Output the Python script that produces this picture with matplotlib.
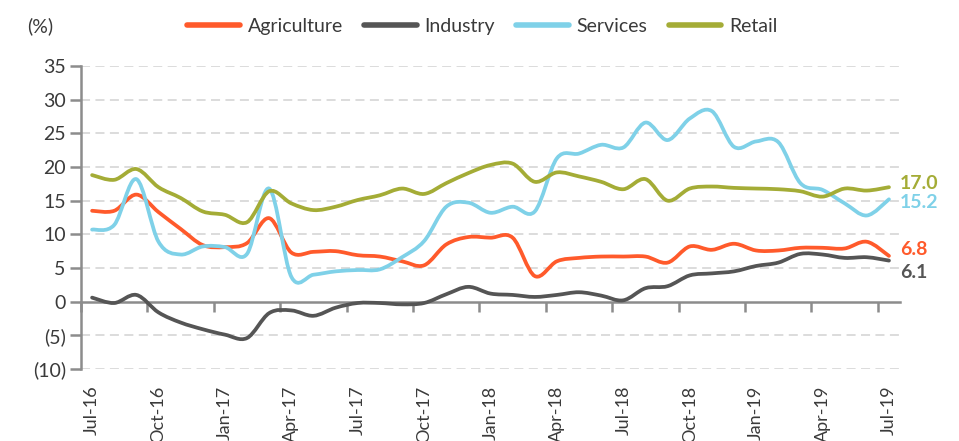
import numpy as np
import matplotlib
matplotlib.use("Agg")
import matplotlib.pyplot as plt
from matplotlib.path import Path
from matplotlib.patches import PathPatch
from matplotlib.lines import Line2D

plt.rcParams['font.family'] = ['Lato', 'DejaVu Sans']

# monthly data, Jul-16 .. Jul-19
months = ["Jul-16", "Aug-16", "Sep-16", "Oct-16", "Nov-16", "Dec-16",
          "Jan-17", "Feb-17", "Mar-17", "Apr-17", "May-17", "Jun-17",
          "Jul-17", "Aug-17", "Sep-17", "Oct-17", "Nov-17", "Dec-17",
          "Jan-18", "Feb-18", "Mar-18", "Apr-18", "May-18", "Jun-18",
          "Jul-18", "Aug-18", "Sep-18", "Oct-18", "Nov-18", "Dec-18",
          "Jan-19", "Feb-19", "Mar-19", "Apr-19", "May-19", "Jun-19",
          "Jul-19"]

agriculture = [13.5, 13.5, 15.9, 13.3, 10.8, 8.4, 8.1, 8.7, 12.4, 7.3, 7.4, 7.5,
               6.9, 6.7, 6.0, 5.4, 8.5, 9.6, 9.5, 9.5, 3.8, 6.0, 6.5, 6.7,
               6.7, 6.7, 5.8, 8.2, 7.7, 8.6, 7.6, 7.6, 8.0, 8.0, 7.9, 8.9, 6.8]
industry = [0.6, -0.2, 1.0, -1.6, -3.1, -4.1, -4.9, -5.4, -1.7, -1.3, -2.1, -0.9,
            -0.2, -0.2, -0.4, -0.2, 1.1, 2.2, 1.2, 1.0, 0.7, 1.0, 1.4, 0.9,
            0.2, 2.0, 2.3, 3.9, 4.2, 4.5, 5.3, 5.8, 7.1, 7.0, 6.5, 6.6, 6.1]
services = [10.7, 11.4, 18.2, 8.9, 7.0, 8.2, 8.1, 7.1, 16.8, 3.7, 4.0, 4.5,
            4.7, 4.8, 6.6, 9.0, 14.1, 14.7, 13.2, 14.1, 13.4, 21.3, 22.0, 23.3,
            22.9, 26.6, 24.0, 27.2, 28.3, 23.0, 23.8, 23.7, 17.6, 16.6, 14.6, 12.8, 15.2]
retail = [18.8, 18.1, 19.7, 17.0, 15.4, 13.4, 12.9, 11.8, 16.4, 14.6, 13.6, 14.1,
          15.1, 15.8, 16.8, 16.0, 17.6, 19.1, 20.3, 20.5, 17.8, 19.2, 18.6, 17.8,
          16.7, 18.2, 15.0, 16.8, 17.1, 16.9, 16.8, 16.7, 16.4, 15.6, 16.8, 16.5, 17.0]

names = ["Agriculture", "Industry", "Services", "Retail"]
colors = ["#FF5A2B", "#555555", "#7FD1E8", "#A4AC36"]
series = [agriculture, industry, services, retail]

yticks = [35, 30, 25, 20, 15, 10, 5, 0, -5, -10]
ylabels = ["35", "30", "25", "20", "15", "10", "5", "0", "(5)", "(10)"]

txtcol = "#3A3A3A"


def smooth_path(x, y):
    # excel-like smoothed line: bezier segments through each point
    pts = np.column_stack([x, y]).astype(float)
    n = len(pts)
    verts = [pts[0]]
    codes = [Path.MOVETO]
    for i in range(n - 1):
        p0 = pts[i - 1] if i > 0 else pts[i]
        p1 = pts[i]
        p2 = pts[i + 1]
        p3 = pts[i + 2] if i + 2 < n else pts[i + 1]
        c1 = p1 + (p2 - p0) / 6.0
        c2 = p2 - (p3 - p1) / 6.0
        verts += [c1, c2, p2]
        codes += [Path.CURVE4] * 3
    return Path(verts, codes)


fig = plt.figure(figsize=(9.59, 4.41), dpi=100)
ax = fig.add_axes([0.0845, 0.1633, 0.854, 0.687])

x = np.arange(len(months))
for vals, c in zip(series, colors):
    patch = PathPatch(smooth_path(x, vals), facecolor="none", edgecolor=c,
                      lw=2.7, capstyle="round", joinstyle="round", zorder=3)
    ax.add_patch(patch)

ax.set_xlim(-0.5, len(months) - 0.5)
ax.set_ylim(-10, 35)

# gridlines
for v in yticks:
    if v != 0:
        ax.axhline(v, color="#D9D9D9", lw=1.3, ls=(0, (5, 3)), zorder=1)

for s in ["top", "right", "bottom"]:
    ax.spines[s].set_visible(False)
ax.spines["left"].set_color("#8C8C8C")
ax.spines["left"].set_linewidth(1.8)
ax.set_yticks(yticks)
ax.set_yticklabels(ylabels, fontsize=14, color=txtcol)
ax.tick_params(axis="y", direction="out", length=8, width=1.8, color="#8C8C8C", pad=3)

# category labels at bottom
ax.set_xticks(x[::3])
ax.set_xticklabels(months[::3], rotation=90, fontsize=13, color=txtcol)
ax.tick_params(axis="x", length=0, pad=12)

# zero axis line with boundary ticks
zero = ax.secondary_xaxis(10 / 45)
zero.spines["bottom"].set_color("#8C8C8C")
zero.spines["bottom"].set_linewidth(1.8)
zero.set_xticks(np.arange(-0.5, len(months), 3))
zero.set_xticklabels([])
zero.tick_params(direction="out", length=7, width=1.8, color="#8C8C8C")

# end labels
offsets = [1.0, -1.8, -0.4, 0.6]
for vals, c, off in zip(series, colors, offsets):
    ax.annotate(f"{vals[-1]:.1f}", xy=(x[-1], vals[-1] + off), xytext=(8, 0),
                textcoords="offset points", va="center", ha="left",
                fontsize=14, fontweight="bold", color=c, annotation_clip=False)

handles = [Line2D([], [], color=c, lw=4, solid_capstyle="round") for c in colors]
leg = fig.legend(handles, names, loc="center", bbox_to_anchor=(0.503, 0.94), ncol=4,
                 frameon=False, handlelength=2.7, columnspacing=1.1,
                 handletextpad=0.4, prop={"size": 14})
for t in leg.get_texts():
    t.set_color(txtcol)

fig.text(0.028, 0.94, "(%)", fontsize=14, color=txtcol, va="center")

fig.savefig("out.png", dpi=100)
